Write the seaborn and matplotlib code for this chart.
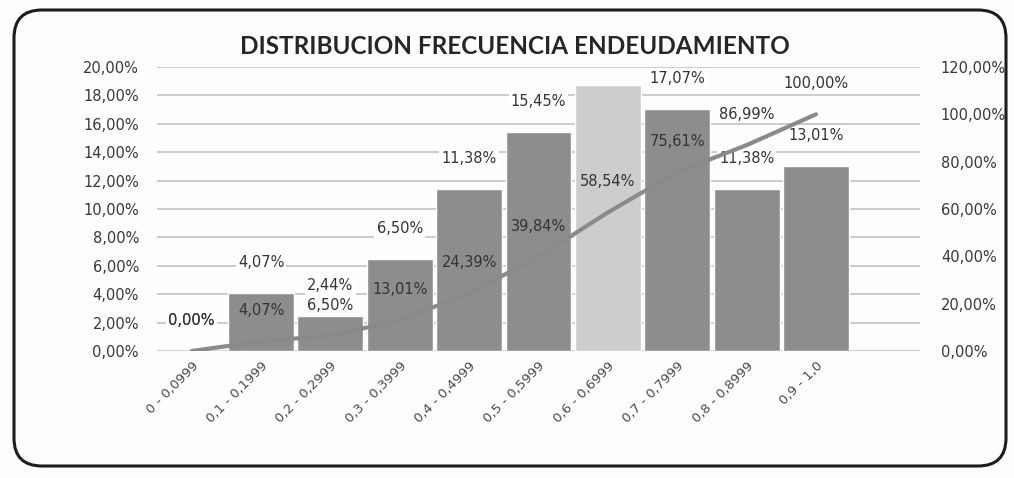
import matplotlib
matplotlib.use("Agg")
import matplotlib.pyplot as plt
import matplotlib.transforms as mtransforms
from matplotlib.patches import FancyBboxPatch
import seaborn as sns
import numpy as np
import pandas as pd

# Debt-ratio ranges and their relative / cumulative frequencies (in %)
categories = ["0 - 0,0999", "0,1 - 0,1999", "0,2 - 0,2999", "0,3 - 0,3999",
              "0,4 - 0,4999", "0,5 - 0,5999", "0,6 - 0,6999", "0,7 - 0,7999",
              "0,8 - 0,8999", "0,9 - 1,0"]
frequency = [0.00, 4.07, 2.44, 6.50, 11.38, 15.45, 18.70, 17.07, 11.38, 13.01]
cumulative = [0.00, 4.07, 6.50, 13.01, 24.39, 39.84, 58.54, 75.61, 86.99, 100.00]
# the label of the highlighted range is not printed
show_freq_label = [True, True, True, True, True, True, False, True, True, True]

left_ticks = [0, 2, 4, 6, 8, 10, 12, 14, 16, 18, 20]
right_ticks = [0, 20, 40, 60, 80, 100, 120]

title = "DISTRIBUCION FRECUENCIA ENDEUDAMIENTO"

df = pd.DataFrame({"rango": categories, "frecuencia": frequency,
                   "acumulado": cumulative})


def pct(v):
    return f"{v:.2f}%".replace(".", ",")


sns.set_theme(style="white")
plt.rcParams["font.family"] = ["DejaVu Sans"]

W, H = 1014, 478
fig = plt.figure(figsize=(W / 100, H / 100), dpi=100)
fig.patch.set_facecolor("#fdfdfd")

ax = fig.add_axes([157 / W, 1 - 351 / H, (920 - 157) / W, (351 - 67) / H])
ax.set_facecolor("none")

bar_colors = ["#8d8d8d"] * len(categories)
bar_colors[6] = "#cdcdcd"

sns.barplot(data=df, x="rango", y="frecuencia", hue="rango",
            palette=bar_colors, legend=False, width=0.95, saturation=1,
            ax=ax, zorder=2)

ax.set_ylim(0, 20)
ax.set_xlim(-0.5, 10.5)
ax.set_yticks(left_ticks)
ax.set_yticklabels([pct(t) for t in left_ticks])
ax.yaxis.grid(True, color="#cbcbcb", lw=1.4, zorder=0)
ax.set_axisbelow(True)
ax.tick_params(axis="y", length=0, pad=13, labelsize=10.5, labelcolor="#383838")
ax.tick_params(axis="x", length=0, pad=6, labelsize=9.5, labelcolor="#4a4a4a")
ax.set_xticks(range(len(categories)))
ax.set_xticklabels(categories, rotation=45, ha="right", va="top",
                   rotation_mode="anchor")
ax.set_xlabel("")
ax.set_ylabel("")
for s in ax.spines.values():
    s.set_visible(False)

for i, (v, show) in enumerate(zip(frequency, show_freq_label)):
    if show:
        ax.annotate(pct(v), (i, v), xytext=(0, 22), textcoords="offset points",
                    ha="center", va="center", fontsize=10.5, color="#333333",
                    bbox=dict(boxstyle="square,pad=0.15", fc="white", ec="none"),
                    zorder=3)

ax2 = ax.twinx()
ax2.set_facecolor("none")
sns.lineplot(x=np.arange(len(categories)), y=df["acumulado"], ax=ax2,
             color="#8a8a8a", lw=3, zorder=4)
ax2.set_ylim(0, 120)
ax2.set_xlim(-0.5, 10.5)
ax2.set_yticks(right_ticks)
ax2.set_yticklabels([pct(t) for t in right_ticks])
ax2.tick_params(axis="y", length=0, pad=15, labelsize=10.5, labelcolor="#383838")
ax2.set_ylabel("")
for s in ax2.spines.values():
    s.set_visible(False)

for i, v in enumerate(cumulative):
    ax2.annotate(pct(v), (i, v), xytext=(0, 22), textcoords="offset points",
                 ha="center", va="center", fontsize=10.5, color="#333333",
                 zorder=5)

fig.text(515 / W, 1 - 46 / H, title, ha="center", va="center",
         fontsize=17.5, fontweight="bold", family=["Lato", "DejaVu Sans"],
         color="#262626")

# rounded frame of the chart area
frame = FancyBboxPatch((14, 12), 992, 456,
                       boxstyle="round,pad=0,rounding_size=28",
                       transform=mtransforms.IdentityTransform(),
                       fill=False, lw=2.2, ec="#1c1c1c")
fig.patches.append(frame)

fig.savefig("out.png", dpi=100, facecolor=fig.get_facecolor())
